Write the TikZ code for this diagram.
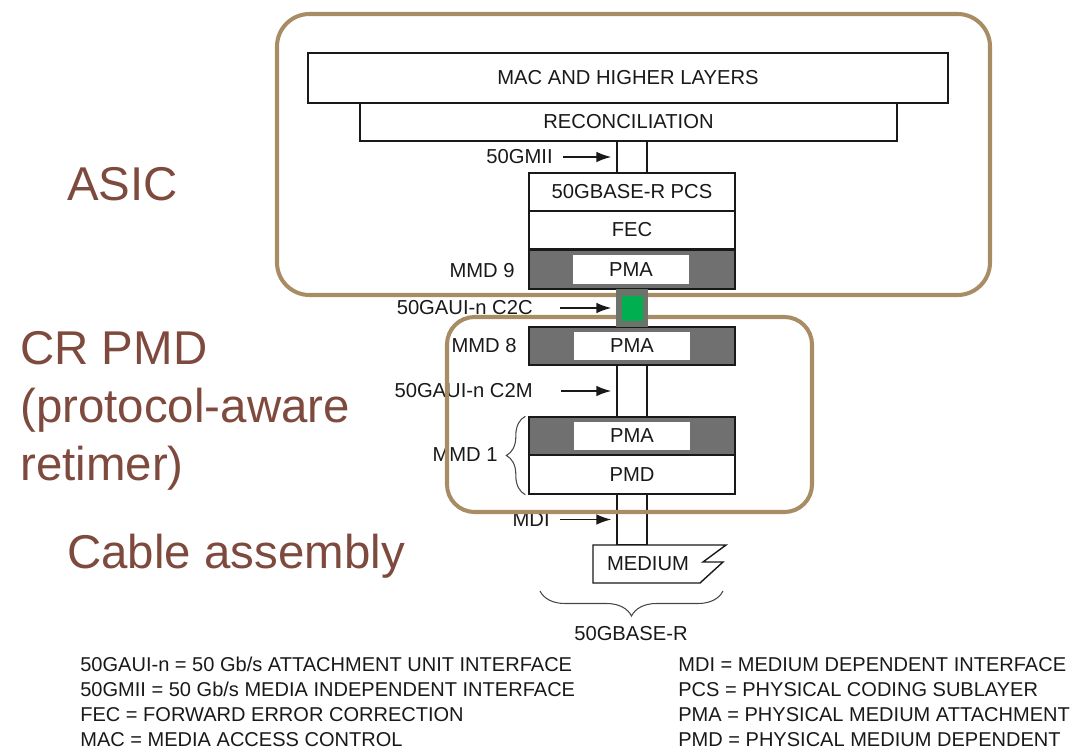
\documentclass[tikz,border=0pt]{standalone}
\usepackage{fontspec}
\setmainfont{Liberation Sans}
\usepackage{tikz}
\usetikzlibrary{shapes,arrows,arrows.meta,positioning,calc,decorations.pathreplacing}
\definecolor{framebrown}{RGB}{168,140,100}
\definecolor{titlebrown}{RGB}{127,74,62}
\definecolor{pmagray}{RGB}{112,112,112}
\definecolor{linkgray}{RGB}{108,115,105}
\definecolor{linkgreen}{RGB}{0,176,80}
\definecolor{ink}{RGB}{25,25,25}

\begin{document}
\begin{tikzpicture}[x=0.02cm, y=-0.02cm,
    layer/.style={draw=ink, rectangle, line width=0.8pt, inner sep=0pt, fill=white,
      minimum width=4.12cm, minimum height=0.76cm, text=ink, font=\fontsize{11.5}{13}\selectfont},
    pmabox/.style={layer, fill=pmagray},
    pmatext/.style={rectangle, fill=white, inner sep=0pt, minimum width=2.34cm,
      minimum height=0.57cm, text=ink, font=\fontsize{11.5}{13}\selectfont},
    chan/.style={layer, minimum width=0.6cm},
    lbl/.style={inner sep=0pt, text=ink, font=\fontsize{11.5}{13}\selectfont},
    arr/.style={-{Latex[length=8.5pt,width=6pt]}, line width=1pt, draw=ink},
    brace/.style={decorate, decoration={brace, amplitude=#1}, draw=ink!80, line width=0.6pt},
    frame/.style={draw=framebrown, line width=2.3pt},
    big/.style={inner sep=0pt, text=titlebrown, align=left, font=\fontsize{27}{33}\selectfont}]
  \useasboundingbox (0,0) rectangle (1076,751);

  % protocol stack
  \node[layer, minimum width=12.8cm, minimum height=1.0cm] (mac) at (628,78) {MAC AND HIGHER LAYERS};
  \node[layer, minimum width=10.74cm] (rec) at (628.5,122) {RECONCILIATION};
  \node[chan, minimum height=0.64cm] (gmii) at (632,157) {};
  \node[layer] (pcs) at (632,192) {50GBASE-R PCS};
  \node[layer] (fec) at (632,230) {FEC};
  \node[pmabox, minimum height=0.78cm] (pma9) at (632,269.5) {};
  \node[pmatext] (pma9t) at (631,269.5) {PMA};
  \node[pmabox] (pma8) at (632,346) {};
  \node[pmatext] (pma8t) at (632,346) {PMA};
  \node[chan, minimum height=1.04cm] (c2m) at (632,391) {};
  \node[pmabox] (pma1) at (632,436) {};
  \node[pmatext] (pma1t) at (632,436) {PMA};
  \node[layer, minimum height=0.78cm] (pmd) at (632,474.5) {PMD};
  \node[chan, minimum height=1.02cm] (mdi) at (632,519.5) {};
  \draw[draw=ink, line width=0.8pt, fill=white] (593,545) -- (726,545) -- (703,562) -- (723,562)
    -- (700,583) -- (593,583) -- cycle;
  \node[lbl] (medium) at (648,564) {MEDIUM};

  % interface labels
  \node[lbl, anchor=east] (gmiilbl) at (553,157) {50GMII};
  \node[lbl, anchor=east] (mmd9) at (515,271) {MMD 9};
  \node[lbl, anchor=east] (c2clbl) at (533,308) {50GAUI-n C2C};
  \node[lbl, anchor=east] (mmd8) at (517,346) {MMD 8};
  \node[lbl, anchor=east] (c2mlbl) at (533,391) {50GAUI-n C2M};
  \node[lbl, anchor=east] (mmd1) at (498,455) {MMD 1};
  \node[lbl, anchor=east] (mdilbl) at (550,519.5) {MDI};
  \draw[arr, shorten <=5.7pt, shorten >=2.8pt] (gmiilbl) -- (gmii);
  \draw[arr, shorten <=15.9pt, shorten >=2.8pt] (c2mlbl) -- (c2m);
  \draw[arr, shorten <=5.7pt, shorten >=2.8pt] (mdilbl) -- (mdi);
  \draw[brace=0.38cm] ([xshift=-1.7pt]pmd.south west) -- ([xshift=-1.7pt]pma1.north west);

  \coordinate (braceR) at (723,591);
  \coordinate (braceL) at (540,591);
  \draw[brace=0.5cm] (braceR) -- (braceL);
  \node[lbl] (phy) at (631,634) {50GBASE-R};

  % grouping frames
  \draw[frame, rounded corners=0.65cm] (277,14) rectangle (990,295);
  \draw[frame, rounded corners=0.55cm] (447,317) rectangle (812,512);

  % C2C link sits on top of the frames
  \node[chan, draw=linkgray, fill=linkgray, minimum height=0.72cm] (c2c) at (632,308) {};
  \node[rectangle, fill=linkgreen, inner sep=0pt, minimum width=0.42cm, minimum height=0.5cm] (c2cg) at (632,308) {};
  \draw[arr, shorten <=15.3pt, shorten >=2.8pt] (c2clbl) -- (c2c);

  % side titles
  \node[big, anchor=base west] (asic) at (67,200) {ASIC};
  \node[big, anchor=north west] (crpmd) at (20,331) {CR PMD\\(protocol-aware\\retimer)};
  \node[big, anchor=base west] (cable) at (67,568) {Cable assembly};

  % legend
  \node[lbl, anchor=north west, align=left, font=\fontsize{11.4}{14.2}\selectfont] (keyL) at (80,657)
    {50GAUI-n = 50 Gb/s ATTACHMENT UNIT INTERFACE\\50GMII = 50 Gb/s MEDIA INDEPENDENT INTERFACE\\
     FEC = FORWARD ERROR CORRECTION\\MAC = MEDIA ACCESS CONTROL};
  \node[lbl, anchor=north west, align=left, font=\fontsize{11.4}{14.2}\selectfont] (keyR) at (678,657)
    {MDI = MEDIUM DEPENDENT INTERFACE\\PCS = PHYSICAL CODING SUBLAYER\\
     PMA = PHYSICAL MEDIUM ATTACHMENT\\PMD = PHYSICAL MEDIUM DEPENDENT};
\end{tikzpicture}
\end{document}
